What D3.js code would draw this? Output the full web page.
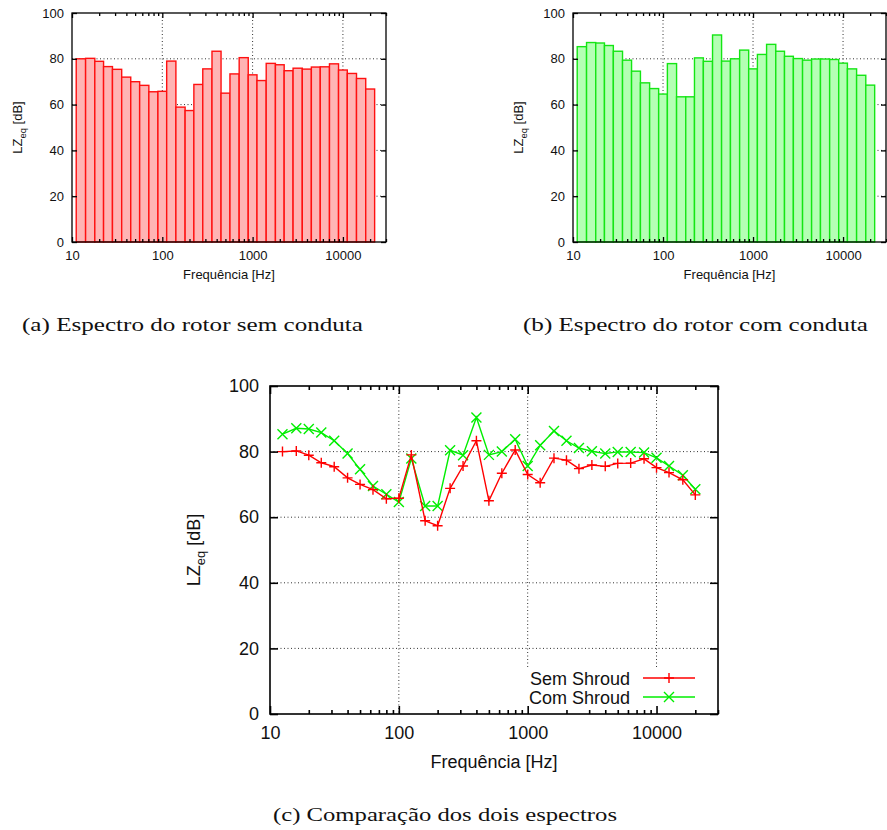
<!DOCTYPE html>
<html>
<head>
<meta charset="utf-8">
<script src="https://cdn.jsdelivr.net/npm/d3@7"></script>
<style>
  body { margin: 0; background: #fff; }
  svg { display: block; }
</style>
</head>
<body>
<svg id="fig" width="887" height="830"></svg>
<script>
// third-octave band centres (Hz)
const bands = [12.5, 16, 20, 25, 31.5, 40, 50, 63, 80, 100, 125, 160, 200, 250, 315, 400, 500,
               630, 800, 1000, 1250, 1600, 2000, 2500, 3150, 4000, 5000, 6300, 8000, 10000,
               12500, 16000, 20000];
// LZeq [dB] rotor sem conduta
const semShroud = [80, 80.2, 78.9, 76.6, 75.4, 72, 70, 68.4, 65.6, 65.8, 79, 58.9, 57.4, 68.8,
                   75.6, 83.3, 65, 73.4, 80.5, 73, 70.5, 78, 77.4, 74.8, 75.9, 75.5, 76.4, 76.5,
                   77.8, 75.1, 73.6, 71.4, 66.8];
// LZeq [dB] rotor com conduta
const comShroud = [85.3, 87.1, 86.9, 85.8, 83.3, 79.4, 74.6, 69.5, 67, 64.6, 77.9, 63.4, 63.4,
                   80.4, 78.9, 90.4, 79, 80, 83.8, 75.6, 81.9, 86.3, 83.3, 81.1, 80.1, 79.4, 79.9,
                   79.9, 79.7, 78.1, 75.6, 72.8, 68.5];
const xTicks = [10, 100, 1000, 10000];
const yTicks = [0, 20, 40, 60, 80, 100];
const xDomain = [10, 30000];
const yDomain = [0, 100];

const svg = d3.select("#fig");
const FONT = "'Liberation Sans', Arial, sans-serif";

function frame(box) {
    let x = d3.scaleLog().domain(xDomain).range([box.left, box.right]);
    let y = d3.scaleLinear().domain(yDomain).range([box.bottom, box.top]);
    let g = svg.append("g");

    // grid (behind data)
    let grid = g.append("g")
        .attr("stroke", "#000")
        .attr("stroke-width", 1)
        .attr("stroke-dasharray", "1,2.5")
        .attr("opacity", 0.8);
    xTicks.slice(1).forEach(t => {
        grid.append("line")
            .attr("x1", x(t)).attr("x2", x(t))
            .attr("y1", box.top).attr("y2", box.bottom);
    });
    yTicks.slice(1, -1).forEach(t => {
        grid.append("line")
            .attr("x1", box.left).attr("x2", box.right)
            .attr("y1", y(t)).attr("y2", y(t));
    });
    return {x, y, g};
}

function axesAndLabels(box, sc, opt) {
    let g = svg.append("g");
    let minor = x => x.ticks().filter(t => xTicks.indexOf(t) < 0);
    let h = box.bottom - box.top, w = box.right - box.left;

    let bottomMaj = d3.axisBottom(sc.x).tickValues(xTicks).tickSizeInner(-opt.major).tickSizeOuter(0)
                      .tickFormat(d3.format("d")).tickPadding(opt.major + opt.pad);
    let bottomMin = d3.axisBottom(sc.x).tickValues(minor(sc.x)).tickSizeInner(-opt.minor).tickSizeOuter(0).tickFormat("");
    let topMaj = d3.axisTop(sc.x).tickValues(xTicks).tickSizeInner(-opt.major).tickSizeOuter(0).tickFormat("");
    let topMin = d3.axisTop(sc.x).tickValues(minor(sc.x)).tickSizeInner(-opt.minor).tickSizeOuter(0).tickFormat("");
    let leftAx = d3.axisLeft(sc.y).tickValues(yTicks).tickSizeInner(-opt.major).tickSizeOuter(0)
                   .tickPadding(opt.major + opt.ypad);
    let rightAx = d3.axisRight(sc.y).tickValues(yTicks).tickSizeInner(-opt.major).tickSizeOuter(0).tickFormat("");

    [[bottomMaj, box.bottom, 0], [bottomMin, box.bottom, 0], [topMaj, box.top, 0], [topMin, box.top, 0],
     [leftAx, 0, box.left], [rightAx, 0, box.right]].forEach(([ax, ty, tx]) => {
        let a = g.append("g").attr("transform", `translate(${tx},${ty})`).call(ax);
        a.select(".domain").remove();
        a.selectAll("line").attr("stroke", "#000").attr("stroke-width", opt.lw);
        a.selectAll("text").attr("font-family", FONT).attr("font-size", opt.fs).attr("fill", "#111");
    });

    g.append("rect")
        .attr("x", box.left).attr("y", box.top)
        .attr("width", w).attr("height", h)
        .attr("fill", "none").attr("stroke", "#000").attr("stroke-width", opt.lw);

    g.append("text")
        .attr("x", (box.left + box.right) / 2)
        .attr("y", opt.xlabY)
        .attr("text-anchor", "middle")
        .attr("font-family", FONT).attr("font-size", opt.fs).attr("fill", "#111")
        .text("Frequência [Hz]");

    let yl = g.append("text")
        .attr("transform", `translate(${opt.ylabX},${(box.top + box.bottom) / 2}) rotate(-90)`)
        .attr("text-anchor", "middle")
        .attr("font-family", FONT).attr("font-size", opt.fs).attr("fill", "#111");
    yl.append("tspan").text("LZ");
    yl.append("tspan").attr("font-size", opt.fs * 0.72).attr("dy", opt.fs * 0.3).text("eq");
    yl.append("tspan").attr("dy", -opt.fs * 0.3).text(" [dB]");
}

// band edges from neighbouring centres (geometric mean)
function edges() {
    return bands.map((f, i) => {
        let lo = i === 0 ? f / Math.pow(2, 1 / 6) : Math.sqrt(bands[i - 1] * f);
        let hi = i === bands.length - 1 ? f * Math.pow(2, 1 / 6) : Math.sqrt(f * bands[i + 1]);
        return [lo, hi];
    });
}

function barChart(box, values, fill, stroke) {
    let sc = frame(box);
    let ed = edges();
    sc.g.append("g").selectAll("rect")
        .data(values)
        .join("rect")
        .attr("x", (d, i) => sc.x(ed[i][0]))
        .attr("width", (d, i) => sc.x(ed[i][1]) - sc.x(ed[i][0]))
        .attr("y", d => sc.y(d))
        .attr("height", d => sc.y(0) - sc.y(d))
        .attr("fill", fill)
        .attr("stroke", stroke)
        .attr("stroke-width", 1.4);
    axesAndLabels(box, sc, {major: 5, minor: 3, pad: 4, ypad: 3, lw: 1.3, fs: 13,
                            xlabY: box.bottom + 37, ylabX: box.left - 50});
}

const topLeft = {left: 72, right: 386, top: 13, bottom: 242};
const topRight = {left: 573, right: 886, top: 13, bottom: 242};
barChart(topLeft, semShroud, "#ffb4b4", "#ff1010");
barChart(topRight, comShroud, "#b4ffb4", "#14e614");

// comparison chart
const bot = {left: 270, right: 718, top: 386, bottom: 714};
const sc = frame(bot);
const series = [
    {name: "Sem Shroud", vals: semShroud, color: "#ff0000", mark: "plus"},
    {name: "Com Shroud", vals: comShroud, color: "#00ee00", mark: "cross"}
];

// legend background hides grid behind it
sc.g.append("rect")
    .attr("x", 520).attr("y", 667).attr("width", bot.right - 520).attr("height", bot.bottom - 667)
    .attr("fill", "#fff");

function marker(sel, kind, r) {
    let p = kind === "plus"
        ? `M${-r},0H${r}M0,${-r}V${r}`
        : `M${-r},${-r}L${r},${r}M${-r},${r}L${r},${-r}`;
    return sel.append("path").attr("d", p);
}

series.slice().reverse().forEach(s => {
    let line = d3.line().x((d, i) => sc.x(bands[i])).y(d => sc.y(d));
    sc.g.append("path")
        .attr("d", line(s.vals))
        .attr("fill", "none").attr("stroke", s.color).attr("stroke-width", 1.4);
    let mg = sc.g.append("g").attr("stroke", s.color).attr("stroke-width", 1.4);
    s.vals.forEach((v, i) => {
        marker(mg.append("g").attr("transform", `translate(${sc.x(bands[i])},${sc.y(v)})`), s.mark, 5);
    });
});

const leg = sc.g.append("g");
series.forEach((s, i) => {
    let ly = 678 + i * 19;
    leg.append("text")
        .attr("x", 630).attr("y", ly + 6.5)
        .attr("text-anchor", "end")
        .attr("font-family", FONT).attr("font-size", 18).attr("fill", "#111")
        .text(s.name);
    leg.append("line")
        .attr("x1", 643).attr("x2", 695).attr("y1", ly).attr("y2", ly)
        .attr("stroke", s.color).attr("stroke-width", 1.4);
    let m = leg.append("g").attr("stroke", s.color).attr("stroke-width", 1.4)
        .attr("transform", `translate(669,${ly})`);
    marker(m, s.mark, 5);
});

axesAndLabels(bot, sc, {major: 8, minor: 4, pad: 4, ypad: 3, lw: 1.6, fs: 18,
                        xlabY: 768, ylabX: 200});

// captions
const captions = [
    {text: "(a) Espectro do rotor sem conduta", x: 22, y: 331, len: 341},
    {text: "(b) Espectro do rotor com conduta", x: 523, y: 331, len: 345},
    {text: "(c) Comparação dos dois espectros", x: 273, y: 821, len: 344}
];
svg.append("g").selectAll("text")
    .data(captions)
    .join("text")
    .attr("x", d => d.x).attr("y", d => d.y)
    .attr("font-family", "'Liberation Serif', 'DejaVu Serif', serif")
    .attr("font-size", 19)
    .attr("fill", "#111")
    .attr("textLength", d => d.len)
    .attr("lengthAdjust", "spacingAndGlyphs")
    .text(d => d.text);
</script>
</body>
</html>
